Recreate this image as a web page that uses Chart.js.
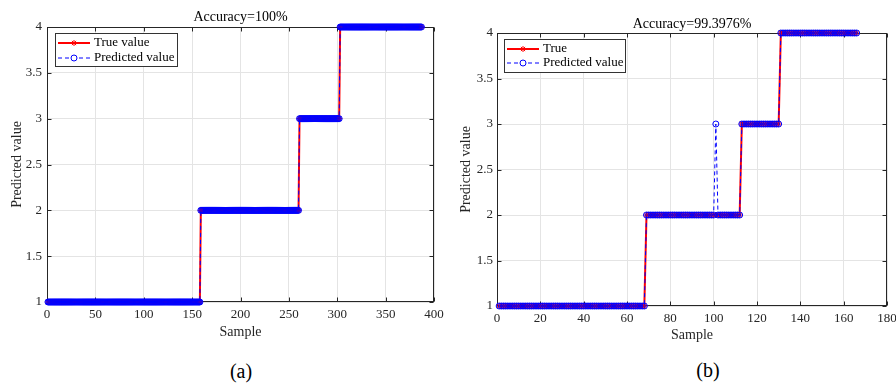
<!DOCTYPE html>
<html>
<head>
<meta charset="utf-8">
<script src="https://cdn.jsdelivr.net/npm/chart.js@4.4.1/dist/chart.umd.min.js"></script>
<style>
  body { margin: 0; background: #fff; width: 896px; height: 385px; overflow: hidden; position: relative; font-family: 'Liberation Serif', 'Times New Roman', serif; }
  canvas { position: absolute; top: 0; }
  #chartA { left: 0; }
  #chartB { left: 448px; }
  .cap { position: absolute; font-size: 20px; color: #000; transform: translate(-50%, -50%); white-space: nowrap; }
</style>
</head>
<body>
<canvas id="chartA" width="448" height="347"></canvas>
<canvas id="chartB" width="448" height="351"></canvas>
<div class="cap" style="left:241px;top:371px">(a)</div>
<div class="cap" style="left:708px;top:370px">(b)</div>
<script>
var FONT = "'Liberation Serif', 'Times New Roman', serif";

// class of each block of samples (test set is sorted by class)
const classLabels = [1, 2, 3, 4];
// number of samples in each class block
const runsA = [158, 102, 42, 85];   // 387 samples
const runsB = [68, 44, 18, 36];     // 166 samples
// wrong predictions in (b): [sample, predicted class]
const wrongB = [[101, 3]];

const yTicks = [1, 1.5, 2, 2.5, 3, 3.5, 4];
const xTicksA = [0, 50, 100, 150, 200, 250, 300, 350, 400];
const xTicksB = [0, 20, 40, 60, 80, 100, 120, 140, 160, 180];

const titleA = 'Accuracy=100%';
const titleB = 'Accuracy=99.3976%';
const legendA = ['True value', 'Predicted value'];
const legendB = ['True', 'Predicted value'];

function expandRuns(runs){
  let out = [];
  let n = 1;
  runs.forEach(function(count, i){
    for (let k = 0; k < count; k++){
      out.push({x: n, y: classLabels[i]});
      n++;
    }
  });
  return out;
}

const trueA = expandRuns(runsA);
const predA = trueA.map(p => ({x: p.x, y: p.y}));   // all correct
const trueB = expandRuns(runsB);
const predB = trueB.map(p => ({x: p.x, y: p.y}));
wrongB.forEach(function(w){ predB[w[0] - 1].y = w[1]; });

function drawStar(ctx, x, y, r){
  ctx.beginPath();
  for (let i = 0; i < 4; i++){
    let a = i * Math.PI / 4;
    ctx.moveTo(x - r * Math.cos(a), y - r * Math.sin(a));
    ctx.lineTo(x + r * Math.cos(a), y + r * Math.sin(a));
  }
  ctx.stroke();
}

// box, inward ticks, title and legend in the matlab look
const matlabAxes = {
  id: 'matlabAxes',
  beforeDatasetsDraw(chart, args, opts){
    const ctx = chart.ctx;
    const a = chart.chartArea;
    const l = Math.round(a.left) + 0.5, r = Math.round(a.right) - 0.5;
    const t = Math.round(a.top) + 0.5, b = Math.round(a.bottom) - 0.5;
    ctx.save();
    ctx.strokeStyle = '#262626';
    ctx.lineWidth = 1;
    ctx.strokeRect(l, t, r - l, b - t);
    ctx.beginPath();
    chart.scales.x.ticks.forEach(function(tk){
      let px = Math.round(chart.scales.x.getPixelForValue(tk.value)) + 0.5;
      ctx.moveTo(px, b); ctx.lineTo(px, b - 4);
      ctx.moveTo(px, t); ctx.lineTo(px, t + 4);
    });
    chart.scales.y.ticks.forEach(function(tk){
      let py = Math.round(chart.scales.y.getPixelForValue(tk.value)) + 0.5;
      ctx.moveTo(l, py); ctx.lineTo(l + 4, py);
      ctx.moveTo(r, py); ctx.lineTo(r - 4, py);
    });
    ctx.stroke();

    ctx.fillStyle = '#000';
    ctx.font = '14px ' + FONT;
    ctx.textAlign = 'center';
    ctx.textBaseline = 'middle';
    ctx.fillText(opts.title, (a.left + a.right) / 2, opts.titleY);
    ctx.restore();
  },
  afterDatasetsDraw(chart, args, opts){
    const ctx = chart.ctx;
    const lg = opts.legend;
    ctx.save();
    ctx.fillStyle = '#fff';
    ctx.fillRect(lg.x, lg.y, lg.w, lg.h);
    ctx.strokeStyle = '#333';
    ctx.lineWidth = 1;
    ctx.strokeRect(lg.x + 0.5, lg.y + 0.5, lg.w, lg.h);

    let x0 = lg.x + 3, x1 = lg.x + 35, xm = (x0 + x1) / 2;
    // true value entry
    ctx.strokeStyle = '#ff0000';
    ctx.lineWidth = 2;
    ctx.beginPath(); ctx.moveTo(x0, lg.rows[0]); ctx.lineTo(x1, lg.rows[0]); ctx.stroke();
    ctx.lineWidth = 1;
    drawStar(ctx, xm, lg.rows[0], 3);
    // predicted entry
    ctx.strokeStyle = '#0000ff';
    ctx.setLineDash([4, 3]);
    ctx.beginPath(); ctx.moveTo(x0, lg.rows[1]); ctx.lineTo(x1, lg.rows[1]); ctx.stroke();
    ctx.setLineDash([]);
    ctx.fillStyle = '#fff';
    ctx.beginPath(); ctx.arc(xm, lg.rows[1], 3, 0, Math.PI * 2); ctx.fill(); ctx.stroke();

    ctx.fillStyle = '#000';
    ctx.font = '13px ' + FONT;
    ctx.textAlign = 'left';
    ctx.textBaseline = 'middle';
    ctx.fillText(lg.labels[0], x1 + 4, lg.rows[0]);
    ctx.fillText(lg.labels[1], x1 + 4, lg.rows[1]);
    ctx.restore();
  }
};

function makeChart(id, set){
  return new Chart(document.getElementById(id), {
    type: 'line',
    data: {
      datasets: [{
        label: set.legend[0],
        data: set.trueData,
        borderColor: '#ff0000',
        borderWidth: 2,
        tension: 0,
        pointStyle: 'star',
        pointRadius: 3,
        pointBorderWidth: 1,
        pointBorderColor: '#ff0000',
        pointBackgroundColor: '#ff0000',
        clip: false,
        order: 2
      }, {
        label: set.legend[1],
        data: set.predData,
        borderColor: '#0000ff',
        borderWidth: 1,
        borderDash: [4, 3],
        tension: 0,
        pointStyle: 'circle',
        pointRadius: 3,
        pointBorderWidth: 1,
        pointBorderColor: '#0000ff',
        pointBackgroundColor: 'rgba(0,0,0,0)',
        clip: false,
        order: 1
      }]
    },
    plugins: [matlabAxes],
    options: {
      responsive: false,
      animation: false,
      events: [],
      layout: { autoPadding: false, padding: set.padding },
      plugins: {
        legend: { display: false },
        tooltip: { enabled: false },
        title: { display: false },
        matlabAxes: {
          title: set.title,
          titleY: set.titleY,
          legend: set.legendBox
        }
      },
      scales: {
        x: {
          type: 'linear',
          min: set.xTicks[0],
          max: set.xTicks[set.xTicks.length - 1],
          afterBuildTicks: function(scale){ scale.ticks = set.xTicks.map(v => ({value: v})); },
          afterFit: function(scale){ scale.height = 45; scale.paddingLeft = 0; scale.paddingRight = 0; },
          grid: { color: '#e4e4e4', drawTicks: false },
          border: { display: false },
          ticks: {
            color: '#262626',
            padding: 5,
            maxRotation: 0,
            autoSkip: false,
            font: { family: FONT, size: 13 },
            callback: v => String(v)
          },
          title: {
            display: true,
            text: 'Sample',
            color: '#262626',
            font: { family: FONT, size: 14 },
            padding: { top: 0, bottom: set.xTitlePad }
          }
        },
        y: {
          type: 'linear',
          min: yTicks[0],
          max: yTicks[yTicks.length - 1],
          afterBuildTicks: function(scale){ scale.ticks = yTicks.map(v => ({value: v})); },
          afterFit: function(scale){ scale.width = set.yWidth; },
          grid: { color: '#e4e4e4', drawTicks: false },
          border: { display: false },
          ticks: {
            color: '#262626',
            padding: set.yTickPad,
            autoSkip: false,
            font: { family: FONT, size: 13 },
            callback: v => String(v)
          },
          title: {
            display: true,
            text: 'Predicted value',
            color: '#262626',
            font: { family: FONT, size: 14 },
            padding: { top: set.yTitlePad, bottom: 0 }
          }
        }
      }
    }
  });
}

makeChart('chartA', {
  trueData: trueA,
  predData: predA,
  xTicks: xTicksA,
  title: titleA,
  titleY: 17,
  legend: legendA,
  legendBox: { x: 55, y: 33, w: 122, h: 33, rows: [43, 58], labels: legendA },
  padding: { top: 27, left: 0, right: 14, bottom: 0 },
  yWidth: 47,
  yTickPad: 5,
  yTitlePad: 8.6,
  xTitlePad: 6
});

makeChart('chartB', {
  trueData: trueB,
  predData: predB,
  xTicks: xTicksB,
  title: titleB,
  titleY: 24,
  legend: legendB,
  legendBox: { x: 56, y: 39, w: 121, h: 33, rows: [49, 63], labels: legendB },
  padding: { top: 33, left: 0, right: 9, bottom: 0 },
  yWidth: 49,
  yTickPad: 4,
  yTitlePad: 9.6,
  xTitlePad: 7.6
});
</script>
</body>
</html>
